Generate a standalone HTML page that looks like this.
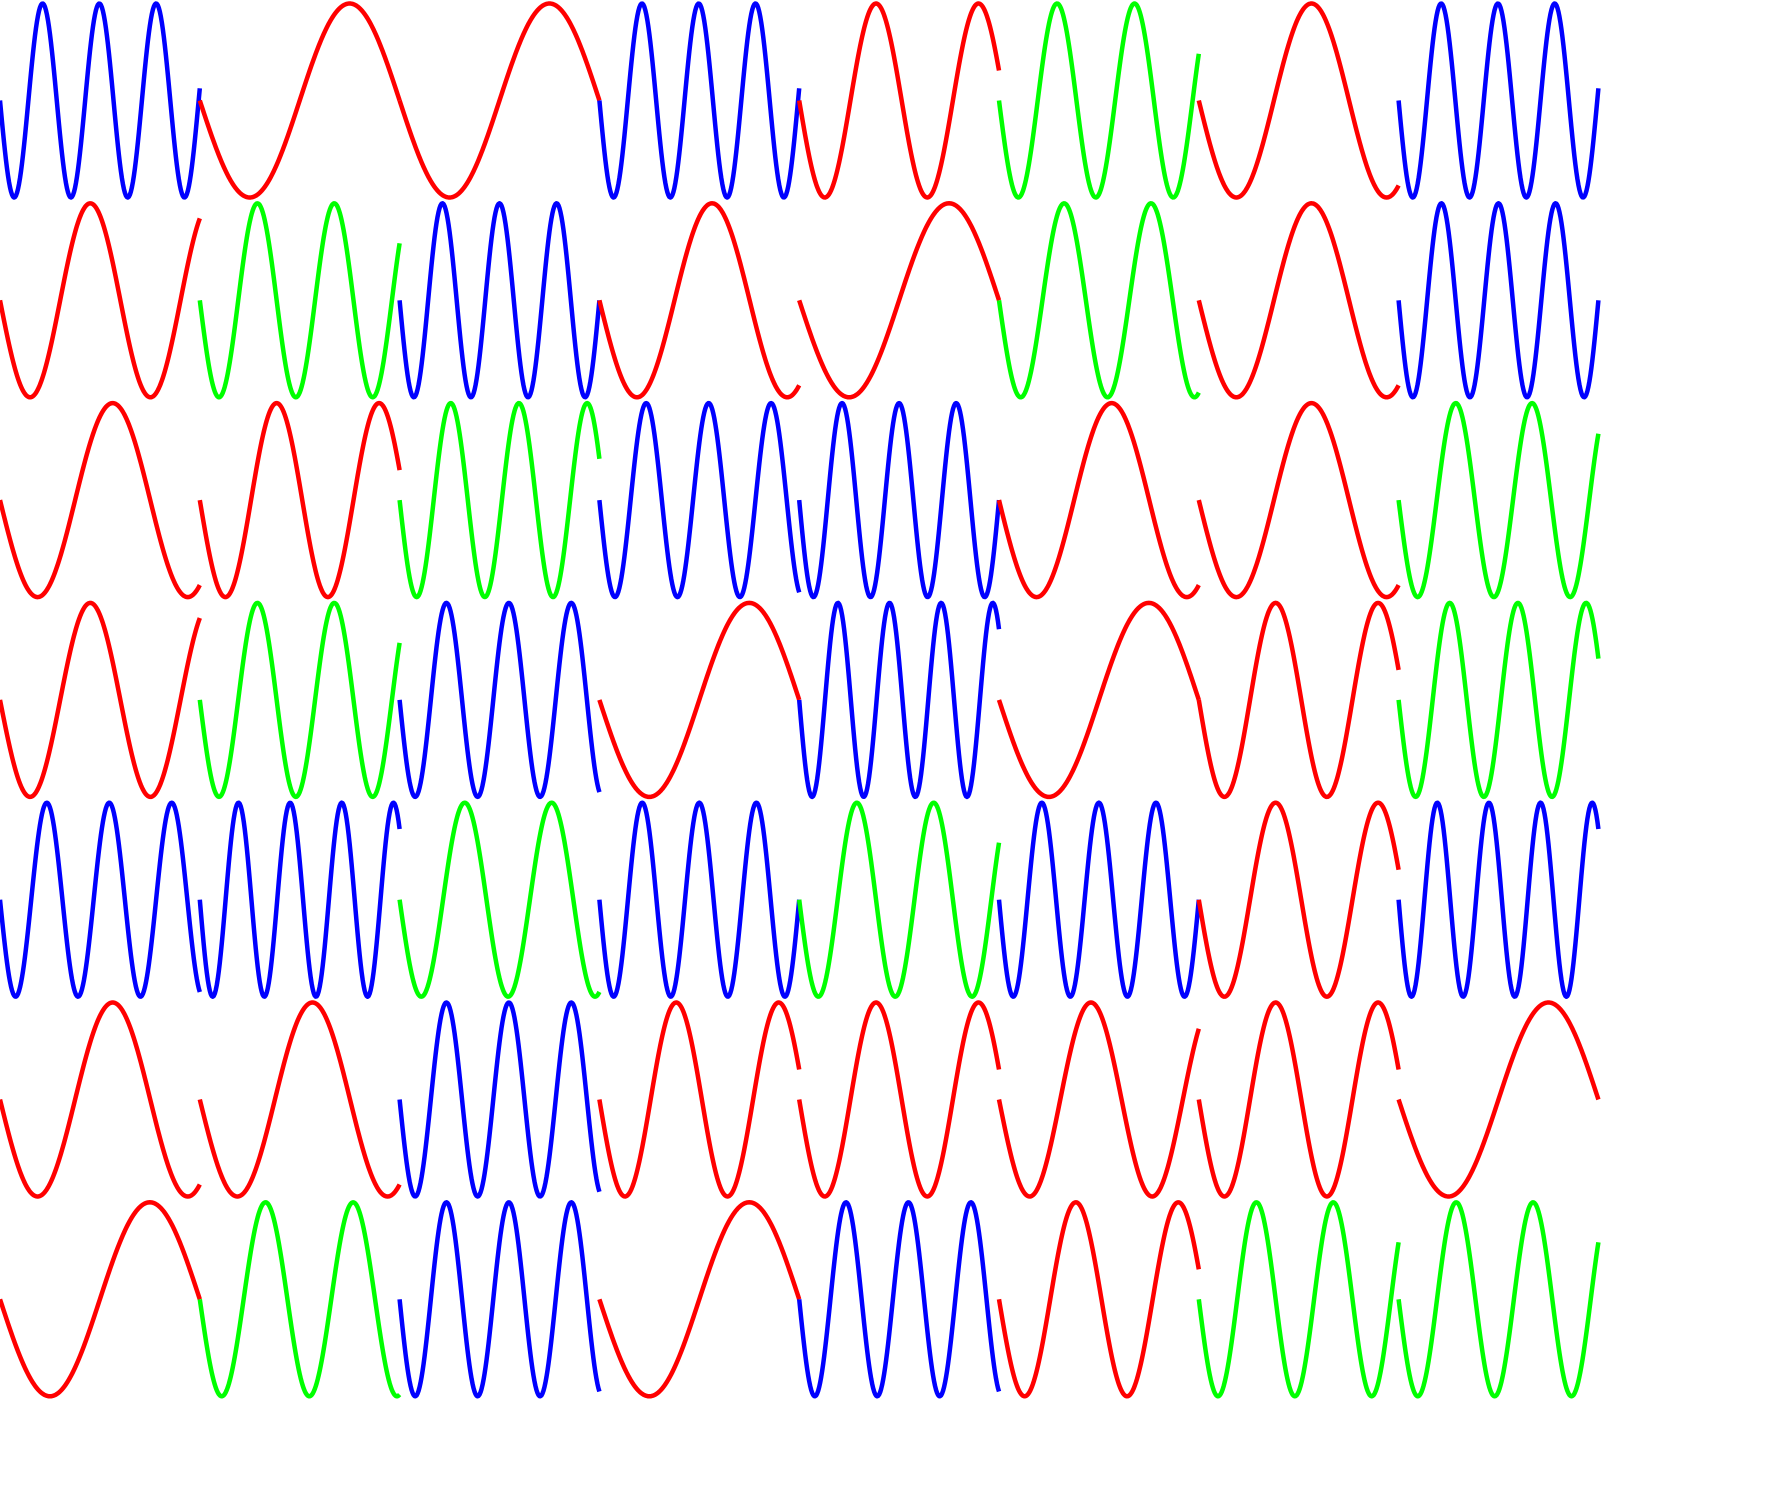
<!DOCTYPE html>
<html>
<head>
<meta charset="utf-8">
<style>
  html, body { margin: 0; padding: 0; background: #ffffff; }
  #chart { display: block; }
</style>
</head>
<body>
<svg id="chart" width="1776" height="1512" viewBox="0 0 1776 1512" xmlns="http://www.w3.org/2000/svg">
  <rect x="0" y="0" width="1776" height="1512" fill="#ffffff"/>
  <g id="tiles"></g>
</svg>
<script>
// cycles per tile, one array per grid row
const row1 = [3.52, 1.0, 1.0, 3.52, 1.95, 2.58, 1.33, 3.52];
const row2 = [1.66, 2.6, 3.5, 1.33, 1.0, 2.3, 1.33, 3.5];
const row3 = [1.33, 1.95, 2.93, 3.2, 3.5, 1.33, 1.33, 2.62];
const row4 = [1.66, 2.6, 3.2, 1.0, 3.87, 1.0, 1.95, 2.93];
const row5 = [3.2, 3.87, 2.3, 3.5, 2.6, 3.5, 1.95, 3.87];
const row6 = [1.33, 1.33, 3.2, 1.95, 1.95, 1.63, 1.95, 1.0];
const row7 = [1.0, 2.28, 3.2, 1.0, 3.2, 1.95, 2.6, 2.6];
const rows = [row1, row2, row3, row4, row5, row6, row7];

const TILE_W = 199.8, TILE_H = 199.8, TOP = 100.5, AMP = 97;
function colX(c) { return c * TILE_W; }
function rowY(r) { return TOP + r * TILE_H; }
function colorFor(f) { return f < 2 ? '#ff0000' : (f < 3 ? '#00ff00' : '#0000ff'); }

const g = document.getElementById('tiles');
const NS = 'http://www.w3.org/2000/svg';
rows.forEach((row, r) => {
  row.forEach((f, c) => {
    const x0 = colX(c), cy = rowY(r);
    let d = '';
    const steps = 200;
    for (let i = 0; i <= steps; i++) {
      const t = i / steps;
      const x = x0 + t * TILE_W;
      const y = cy + AMP * Math.sin(2 * Math.PI * f * t);
      d += (i === 0 ? 'M' : 'L') + x.toFixed(2) + ' ' + y.toFixed(2);
    }
    const p = document.createElementNS(NS, 'path');
    p.setAttribute('d', d);
    p.setAttribute('fill', 'none');
    p.setAttribute('stroke', colorFor(f));
    p.setAttribute('stroke-width', '4.5');
    p.setAttribute('stroke-linejoin', 'round');
    
    
    g.appendChild(p);
  });
});
</script>
</body>
</html>
